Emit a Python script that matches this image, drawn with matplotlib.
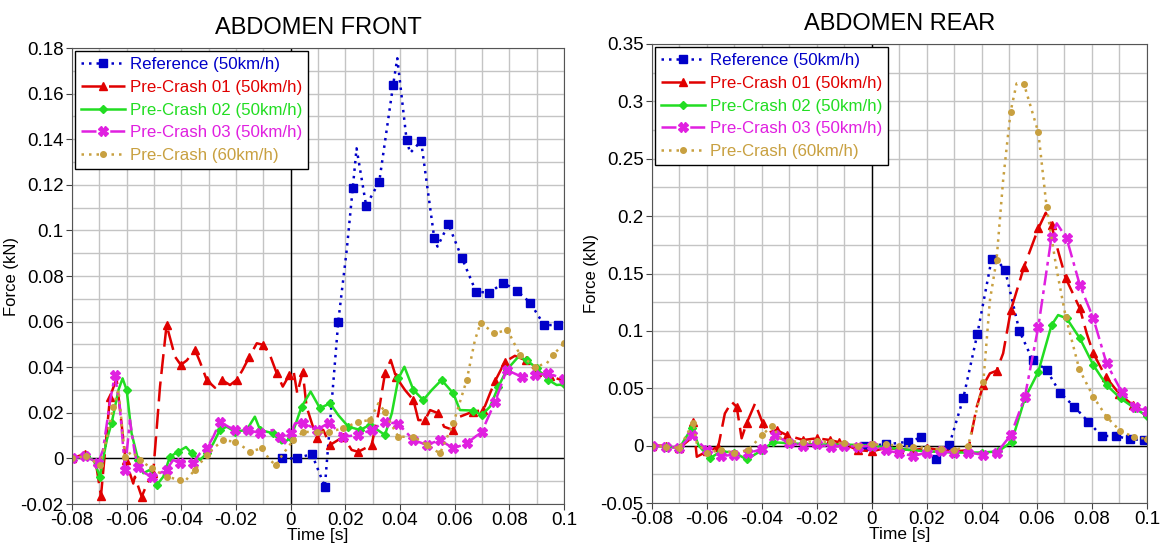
import matplotlib
matplotlib.use("Agg")
import matplotlib.pyplot as plt
import numpy as np
from matplotlib.ticker import MultipleLocator, FormatStrFormatter

plt.rcParams['font.family'] = ['Liberation Sans', 'DejaVu Sans']

# ---- ABDOMEN FRONT data (time [s], force [kN]) ----
ref_front_t = [-0.003, 0.0024, 0.0077, 0.0125, 0.0174, 0.0205, 0.0227, 0.0241, 0.0276, 0.0324, 0.0375, 0.039,
               0.0424, 0.0437, 0.0477, 0.0525, 0.0537, 0.0577, 0.0626, 0.0678, 0.0727, 0.0778, 0.0827, 0.0876,
               0.0927, 0.0977, 0.1]
ref_front_v = [0.0, 0.0, 0.002, -0.0124, 0.06, 0.0914, 0.1185, 0.136, 0.1108, 0.1214, 0.164, 0.1755,
               0.1397, 0.134, 0.1392, 0.0968, 0.0929, 0.1027, 0.088, 0.0731, 0.0727, 0.077, 0.0736, 0.0683,
               0.0585, 0.0585, 0.058]

pc01_front_t = [-0.08, -0.0753, -0.071, -0.0694, -0.0661, -0.0637, -0.0604, -0.0576, -0.057, -0.0545, -0.0525,
                -0.0503, -0.0478, -0.0454, -0.0423, -0.0402, -0.038, -0.035, -0.0332, -0.0307, -0.0277, -0.0252,
                -0.0222, -0.0198, -0.0176, -0.0151, -0.0124, -0.01, -0.0076, -0.0051, -0.0029, -0.0005, 0.001,
                0.0024, 0.0044, 0.0058, 0.0095, 0.0119, 0.0144, 0.0193, 0.0223, 0.0247, 0.0296, 0.0321, 0.0345,
                0.0366, 0.0385, 0.0418, 0.0449, 0.0467, 0.0491, 0.051, 0.054, 0.0561, 0.0593, 0.0619, 0.0666,
                0.0705, 0.0729, 0.0748, 0.0784, 0.082, 0.086, 0.09, 0.095, 0.1]
pc01_front_v = [0.0, 0.002, -0.004, -0.0165, 0.027, 0.035, -0.0007, -0.011, -0.008, -0.0168, -0.011,
                -0.0064, 0.0315, 0.0585, 0.0446, 0.041, 0.043, 0.0476, 0.0424, 0.0344, 0.031, 0.0344,
                0.0322, 0.0344, 0.0388, 0.0446, 0.0505, 0.0498, 0.0454, 0.0373, 0.0315, 0.0366, 0.0388,
                0.0285, 0.038, 0.0227, 0.0088, 0.0125, 0.0059, 0.0095, 0.0037, 0.0029, 0.0059, 0.0198, 0.0373,
                0.0432, 0.0358, 0.03, 0.0256, 0.0168, 0.0168, 0.0212, 0.0198, 0.0139, 0.0125, 0.0183, 0.0205,
                0.0212, 0.0285, 0.034, 0.0424, 0.045, 0.043, 0.038, 0.036, 0.034]

pc02_front_t = [-0.08, -0.075, -0.072, -0.0698, -0.0673, -0.0655, -0.063, -0.0615, -0.06, -0.0582, -0.0558,
                -0.0539, -0.0515, -0.049, -0.0466, -0.0442, -0.0411, -0.0383, -0.0362, -0.0332, -0.0307,
                -0.0283, -0.0259, -0.0234, -0.0204, -0.0161, -0.0131, -0.0112, -0.0064, -0.0033, 0.0, 0.004,
                0.0073, 0.0107, 0.0144, 0.0174, 0.0211, 0.0254, 0.029, 0.0345, 0.037, 0.0394, 0.0416, 0.0449,
                0.0485, 0.0516, 0.0552, 0.0595, 0.0619, 0.0668, 0.0699, 0.0729, 0.076, 0.079, 0.0833, 0.0863,
                0.09, 0.0943, 0.0973, 0.1]
pc02_front_v = [0.0, 0.001, -0.001, -0.008, 0.008, 0.0155, 0.03, 0.0351, 0.03, 0.011, -0.0007,
                -0.0065, -0.005, -0.0117, -0.008, 0.0007, 0.003, 0.005, 0.0022, -0.0007, 0.0022,
                0.0066, 0.0125, 0.0139, 0.0117, 0.0125, 0.0183, 0.0125, 0.011, 0.0066, 0.0088, 0.0227,
                0.0293, 0.022, 0.0242, 0.019, 0.0139, 0.0125, 0.0147, 0.0103, 0.0198, 0.0351, 0.0402, 0.03,
                0.0256, 0.03, 0.0344, 0.0285, 0.0212, 0.021, 0.019, 0.0227, 0.0315, 0.0388, 0.0446, 0.0432,
                0.0395, 0.0344, 0.0322, 0.0325]

pc03_front_t = [-0.08, -0.0753, -0.0704, -0.0686, -0.0661, -0.0643, -0.0625, -0.0606, -0.0588, -0.057, -0.0558,
                -0.0533, -0.0509, -0.048, -0.0454, -0.043, -0.0405, -0.0375, -0.0357, -0.0332, -0.0307,
                -0.0283, -0.0259, -0.0228, -0.0204, -0.0155, -0.0112, -0.0064, -0.0039, -0.0021, 0.0, 0.0016,
                0.0046, 0.0095, 0.0141, 0.0193, 0.0247, 0.0296, 0.0345, 0.0394, 0.0449, 0.0498, 0.0546, 0.0595,
                0.0644, 0.0699, 0.0748, 0.079, 0.0845, 0.0894, 0.0943, 0.1]
pc03_front_v = [0.0, 0.001, -0.002, 0.004, 0.0249, 0.0366, 0.0227, -0.005, 0.0168, 0.002, -0.0036,
                -0.0065, -0.008, -0.0065, -0.005, -0.0007, -0.0019, -0.0015, -0.002, 0.0022, 0.0044,
                0.0095, 0.0161, 0.0139, 0.0125, 0.0125, 0.011, 0.0125, 0.0095, 0.0066, 0.011, 0.0154,
                0.0157, 0.0125, 0.0157, 0.0095, 0.0103, 0.0125, 0.0161, 0.0151, 0.0081, 0.0059, 0.0081, 0.0044,
                0.0066, 0.0117, 0.0249, 0.0388, 0.0358, 0.0366, 0.0373, 0.0348]

pc60_front_t = [-0.08, -0.075, -0.0698, -0.0673, -0.0649, -0.063, -0.0606, -0.058, -0.0551, -0.0509, -0.0454,
                -0.0405, -0.0383, -0.035, -0.0307, -0.0277, -0.0247, -0.0204, -0.0173, -0.0149, -0.0106,
                -0.0076, -0.0054, -0.0027, 0.001, 0.0046, 0.0095, 0.014, 0.0193, 0.0247, 0.029, 0.0321, 0.0345,
                0.0363, 0.0394, 0.0449, 0.0498, 0.0546, 0.0595, 0.0644, 0.0674, 0.0695, 0.0744, 0.0793, 0.0839,
                0.0894, 0.0937, 0.096, 0.1]
pc60_front_v = [0.0, 0.001, -0.003, 0.0088, 0.0227, 0.03, 0.0007, 0.003, -0.0007, -0.0044, -0.008,
                -0.0095, -0.0095, -0.005, 0.0015, 0.005, 0.008, 0.0073, 0.005, 0.003, 0.0044,
                -0.0007, -0.003, 0.0022, 0.008, 0.0117, 0.0114, 0.0117, 0.0132, 0.0161, 0.0168, 0.0242, 0.0205,
                0.016, 0.0095, 0.0095, 0.0059, 0.0022, 0.0154, 0.0344, 0.0519, 0.0595, 0.0549, 0.0563, 0.0454,
                0.0402, 0.0417, 0.0454, 0.0505]

# ---- ABDOMEN REAR data ----
ref_rear_t = [-0.003, 0.005, 0.0132, 0.018, 0.0233, 0.0281, 0.0332, 0.0383, 0.0435, 0.0447, 0.0484, 0.0536,
              0.0584, 0.0635, 0.0684, 0.0736, 0.0787, 0.0835, 0.0887, 0.0938, 0.099, 0.1]
ref_rear_v = [0.0, 0.001, 0.0034, 0.0072, -0.012, 0.0005, 0.0412, 0.097, 0.1623, 0.164, 0.153, 0.1001,
              0.0746, 0.0659, 0.0461, 0.0339, 0.0208, 0.0084, 0.0084, 0.0055, 0.005, 0.005]

pc01_rear_t = [-0.08, -0.075, -0.07, -0.0665, -0.065, -0.0637, -0.06, -0.0559, -0.0535, -0.051, -0.0492, -0.0474,
               -0.0456, -0.0425, -0.0397, -0.038, -0.0347, -0.031, -0.025, -0.0201, -0.0153, -0.012, -0.005, 0.0,
               0.005, 0.01, 0.015, 0.02, 0.025, 0.03, 0.035, 0.0381, 0.0405, 0.0429, 0.0453, 0.0477, 0.0505,
               0.0553, 0.0605, 0.0632, 0.0653, 0.0676, 0.0705, 0.0756, 0.0781, 0.0805, 0.085, 0.09, 0.095, 0.1]
pc01_rear_v = [0.0, 0.0, -0.002, 0.005, 0.0205, -0.0097, -0.005, -0.001, 0.028, 0.038, 0.0339, 0.0064,
               0.0194, 0.0368, 0.0194, 0.011, 0.0136, 0.0092, 0.0049, 0.0064, 0.0049, 0.003, -0.0038, -0.005,
               -0.002, -0.003, -0.004, -0.002, -0.004, -0.005, -0.004, 0.0339, 0.0528, 0.063, 0.0652, 0.0804, 0.118,
               0.1558, 0.1893, 0.2029, 0.1921, 0.1704, 0.1457, 0.1196, 0.0978, 0.0804, 0.06, 0.045, 0.035, 0.03]

pc02_rear_t = [-0.08, -0.075, -0.07, -0.0655, -0.063, -0.0589, -0.055, -0.05, -0.0456, -0.04, -0.036, -0.03,
               -0.02, -0.01, 0.0, 0.01, 0.02, 0.03, 0.04, 0.046, 0.0508, 0.0556, 0.0605, 0.0653, 0.0677, 0.0708,
               0.0756, 0.0805, 0.0853, 0.0904, 0.0956, 0.1]
pc02_rear_v = [0.0, -0.001, -0.002, 0.0155, 0.0, -0.011, -0.005, -0.006, -0.012, -0.004, 0.003, 0.002,
               0.001, 0.001, 0.0, -0.003, -0.005, -0.006, -0.006, -0.005, 0.0034, 0.0412, 0.0644, 0.105, 0.1138,
               0.1109, 0.0935, 0.0702, 0.0528, 0.0412, 0.0325, 0.0258]

pc03_rear_t = [-0.08, -0.075, -0.07, -0.0655, -0.06, -0.055, -0.05, -0.045, -0.04, -0.0353, -0.03, -0.025,
               -0.02, -0.015, -0.01, -0.005, 0.0, 0.005, 0.01, 0.015, 0.02, 0.025, 0.03, 0.035, 0.0405, 0.0453,
               0.0505, 0.0556, 0.0605, 0.0653, 0.0672, 0.0708, 0.0756, 0.0805, 0.0853, 0.0908, 0.0956, 0.1]
pc03_rear_v = [0.0, -0.001, -0.002, 0.0092, -0.004, -0.009, -0.008, -0.0065, -0.003, 0.0092, 0.002, 0.0,
               0.001, -0.001, 0.0, -0.001, 0.0, -0.004, -0.0065, -0.009, -0.006, -0.005, -0.006, -0.006, -0.008,
               -0.0065, 0.0092, 0.0426, 0.1036, 0.182, 0.1937, 0.1806, 0.1399, 0.1109, 0.0717, 0.047, 0.0334, 0.03]

pc60_rear_t = [-0.08, -0.075, -0.07, -0.065, -0.0637, -0.06, -0.055, -0.05, -0.045, -0.04, -0.0365, -0.033,
               -0.03, -0.025, -0.02, -0.015, -0.01, -0.005, 0.0, 0.005, 0.01, 0.015, 0.02, 0.025, 0.03, 0.035,
               0.0405, 0.0429, 0.0453, 0.0477, 0.0504, 0.0526, 0.0553, 0.0605, 0.0635, 0.0672, 0.0705, 0.0754,
               0.0805, 0.0853, 0.0902, 0.0953, 0.1]
pc60_rear_v = [0.0, -0.001, -0.002, 0.02, 0.002, -0.006, -0.004, -0.006, -0.004, 0.0092, 0.017, 0.006,
               0.004, 0.003, 0.004, 0.003, 0.002, 0.0, 0.001, 0.001, 0.0, -0.001, -0.002, -0.003, -0.004, 0.0,
               0.0557, 0.1268, 0.1617, 0.2314, 0.2909, 0.3156, 0.315, 0.2729, 0.2081, 0.153, 0.1118, 0.0665,
               0.0426, 0.0252, 0.013, 0.0074, 0.006]

labels = ["Reference (50km/h)", "Pre-Crash 01 (50km/h)", "Pre-Crash 02 (50km/h)",
          "Pre-Crash 03 (50km/h)", "Pre-Crash (60km/h)"]
colors = ["#0000c8", "#e00000", "#22dd22", "#e020e0", "#c8a040"]
styles = [(0, (1, 2)), (0, (8, 3)), "-", (0, (6, 2, 1.5, 2)), (0, (1, 2))]
markers = ["s", "^", "D", "X", "o"]
msizes = [5.5, 6, 4, 7, 4]
phases = [0.0025, 0.0, 0.0, 0.0, 0.0]


def marker_idx(t, phase):
    # index of the sample closest to every 5 ms step
    t = np.asarray(t)
    idx = []
    for s in np.arange(-0.08 + phase, 0.1001, 0.005):
        i = int(np.argmin(np.abs(t - s)))
        if abs(t[i] - s) < 0.0025 and i not in idx:
            idx.append(i)
    return idx


def draw_panel(ax, series, title, ylim, ymajor, yminor):
    for k, (t, v) in enumerate(series):
        ax.plot(t, v, color=colors[k], linestyle=styles[k], linewidth=1.8,
                marker=markers[k], markersize=msizes[k], markevery=marker_idx(t, phases[k]),
                label=labels[k])
    ax.axhline(0, color="black", linewidth=1.0, zorder=1)
    ax.axvline(0, color="black", linewidth=1.0, zorder=1)
    ax.set_xlim(-0.08, 0.1)
    ax.set_ylim(*ylim)
    ax.xaxis.set_major_locator(MultipleLocator(0.02))
    ax.xaxis.set_minor_locator(MultipleLocator(0.01))
    ax.yaxis.set_major_locator(MultipleLocator(ymajor))
    ax.yaxis.set_minor_locator(MultipleLocator(yminor))
    ax.xaxis.set_major_formatter(FormatStrFormatter("%g"))
    ax.yaxis.set_major_formatter(FormatStrFormatter("%g"))
    ax.grid(True, which="both", color="#c4c4c4", linewidth=1.0, zorder=0)
    ax.set_axisbelow(True)
    ax.tick_params(labelsize=13.5, length=4, pad=2, color="#444444")
    ax.tick_params(which="minor", length=0)
    for s in ax.spines.values():
        s.set_color("#555555")
    ax.set_xlabel("Time [s]", fontsize=12.5, labelpad=-1)
    ax.set_ylabel("Force (kN)", fontsize=12, labelpad=1)
    ax.set_title(title, fontsize=17, pad=10)
    leg = ax.legend(loc="upper left", fontsize=12.2, handlelength=2.6, handletextpad=0.25,
                    borderpad=0.35, labelspacing=0.45, fancybox=False, framealpha=1,
                    borderaxespad=0.2)
    leg.get_frame().set_edgecolor("black")
    leg.get_frame().set_linewidth(1.0)
    for txt, c in zip(leg.get_texts(), colors):
        txt.set_color(c)


fig = plt.figure(figsize=(11.63, 5.47), dpi=100)
ax1 = fig.add_axes([0.0619, 0.0786, 0.4231, 0.8336])
ax2 = fig.add_axes([0.5606, 0.0804, 0.4256, 0.8392])

draw_panel(ax1, [(ref_front_t, ref_front_v), (pc01_front_t, pc01_front_v), (pc02_front_t, pc02_front_v),
                 (pc03_front_t, pc03_front_v), (pc60_front_t, pc60_front_v)],
           "ABDOMEN FRONT", (-0.02, 0.18), 0.02, 0.01)
draw_panel(ax2, [(ref_rear_t, ref_rear_v), (pc01_rear_t, pc01_rear_v), (pc02_rear_t, pc02_rear_v),
                 (pc03_rear_t, pc03_rear_v), (pc60_rear_t, pc60_rear_v)],
           "ABDOMEN REAR", (-0.05, 0.35), 0.05, 0.025)

fig.savefig("out.png", dpi=100)
